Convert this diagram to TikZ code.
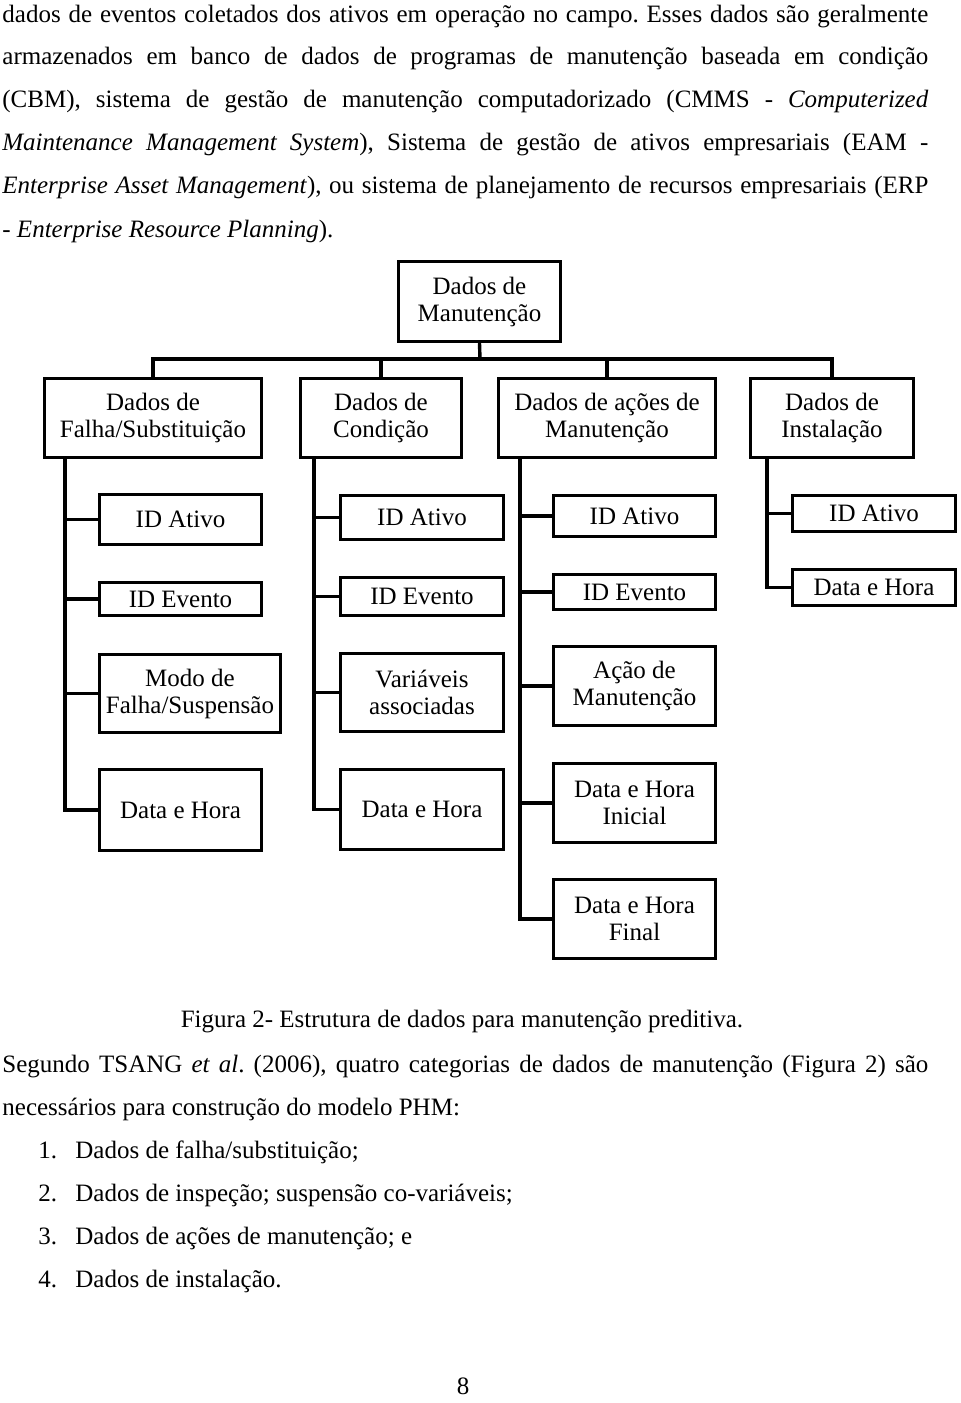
\documentclass[tikz,border=0pt]{standalone}
\usepackage{fontspec}
\setmainfont{Liberation Serif}
\frenchspacing

\begin{document}
\begin{tikzpicture}[x=0.5pt, y=-0.5pt,
	caixa/.style 2 args={draw, line width=1.7pt, minimum width=#1*0.5pt, minimum height=#2*0.5pt, inner sep=0pt, align=center, font=\fontsize{12.5}{13.5}\selectfont},
	ligacao/.style={line width=1.7pt},
	texto/.style={anchor=base west, inner sep=0pt, font=\fontsize{12.5}{14}\selectfont}] % page in pixel units

	\useasboundingbox (0,0) rectangle (960,1403);

	% text above the figure
	\node[texto] (l1) at (2,22) {\makebox[463pt][s]{dados de eventos coletados dos ativos em operação no campo. Esses dados são geralmente}};
	\node[texto] (l2) at (2,64) {\makebox[463pt][s]{armazenados em banco de dados de programas de manutenção baseada em condição}};
	\node[texto] (l3) at (2,107) {\makebox[463pt][s]{(CBM), sistema de gestão de manutenção computadorizado (CMMS - \textit{Computerized}}};
	\node[texto] (l4) at (2,150) {\makebox[463pt][s]{\textit{Maintenance Management System}), Sistema de gestão de ativos empresariais (EAM -}};
	\node[texto] (l5) at (2,193) {\makebox[463pt][s]{\textit{Enterprise Asset Management}), ou sistema de planejamento de recursos empresariais (ERP}};
	\node[texto] (l6) at (2,237) {- \textit{Enterprise Resource Planning}).};

	% the figure
	\node[caixa={162}{80}] (manut) at (479.5,301.5) {Dados de\\Manutenção};

	\node[caixa={217}{79}] (falha) at (153,418) {Dados de\\Falha/Substituição};
	\node[caixa={161}{79}] (cond) at (381,418) {Dados de\\Condição};
	\node[caixa={217}{79}] (acoes) at (607,418) {Dados de ações de\\Manutenção};
	\node[caixa={163}{79}] (inst) at (832,418) {Dados de\\Instalação};

	\node[caixa={162}{50}] (f1) at (180.5,519.5) {ID Ativo};
	\node[caixa={162}{33}] (f2) at (180.5,599) {ID Evento};
	\node[caixa={181}{78}] (f3) at (190,693.5) {Modo de\\Falha/Suspensão};
	\node[caixa={162}{81}] (f4) at (180.5,810) {Data e Hora};

	\node[caixa={163}{44}] (c1) at (422,517.5) {ID Ativo};
	\node[caixa={163}{38}] (c2) at (422,596.5) {ID Evento};
	\node[caixa={163}{78}] (c3) at (422,692.5) {Variáveis\\associadas};
	\node[caixa={163}{80}] (c4) at (422,809.5) {Data e Hora};

	\node[caixa={162}{41}] (a1) at (634.5,516) {ID Ativo};
	\node[caixa={162}{35}] (a2) at (634.5,592) {ID Evento};
	\node[caixa={162}{79}] (a3) at (634.5,686) {Ação de\\Manutenção};
	\node[caixa={162}{79}] (a4) at (634.5,803) {Data e Hora\\Inicial};
	\node[caixa={162}{79}] (a5) at (634.5,919) {Data e Hora\\Final};

	\node[caixa={163}{36}] (i1) at (874,513.5) {ID Ativo};
	\node[caixa={163}{36}] (i2) at (874,587.5) {Data e Hora};

	\coordinate (barra) at (480,359);
	\coordinate (tf) at (65,458);
	\coordinate (tc) at (314,458);
	\coordinate (ta) at (520,458);
	\coordinate (ti) at (767,458);

	\draw[ligacao] (manut.south) -- (barra);
	\foreach \n in {falha,cond,acoes,inst}
		\draw[ligacao] (barra) -| (\n.north);

	\foreach \n in {f1,f2,f3,f4}
		\draw[ligacao] (tf) |- (\n.west);
	\foreach \n in {c1,c2,c3,c4}
		\draw[ligacao] (tc) |- (\n.west);
	\foreach \n in {a1,a2,a3,a4,a5}
		\draw[ligacao] (ta) |- (\n.west);
	\foreach \n in {i1,i2}
		\draw[ligacao] (ti) |- (\n.west);

	% text below the figure
	\node[texto, anchor=base] (legenda) at (462,1027) {Figura 2- Estrutura de dados para manutenção preditiva.};
	\node[texto] (p1) at (2,1072) {\makebox[463pt][s]{Segundo TSANG \textit{et al}. (2006), quatro categorias de dados de manutenção (Figura 2) são}};
	\node[texto] (p2) at (2,1115) {necessários para construção do modelo PHM:};

	\node[texto] (n1) at (38,1158) {1.};
	\node[texto] (n2) at (38,1201) {2.};
	\node[texto] (n3) at (38,1244) {3.};
	\node[texto] (n4) at (38,1287) {4.};
	\node[texto] (i1t) at (75,1158) {Dados de falha/substituição;};
	\node[texto] (i2t) at (75,1201) {Dados de inspeção; suspensão co-variáveis;};
	\node[texto] (i3t) at (75,1244) {Dados de ações de manutenção; e};
	\node[texto] (i4t) at (75,1287) {Dados de instalação.};

	\node[texto, anchor=base] (pagina) at (463,1394) {8};

\end{tikzpicture}
\end{document}
